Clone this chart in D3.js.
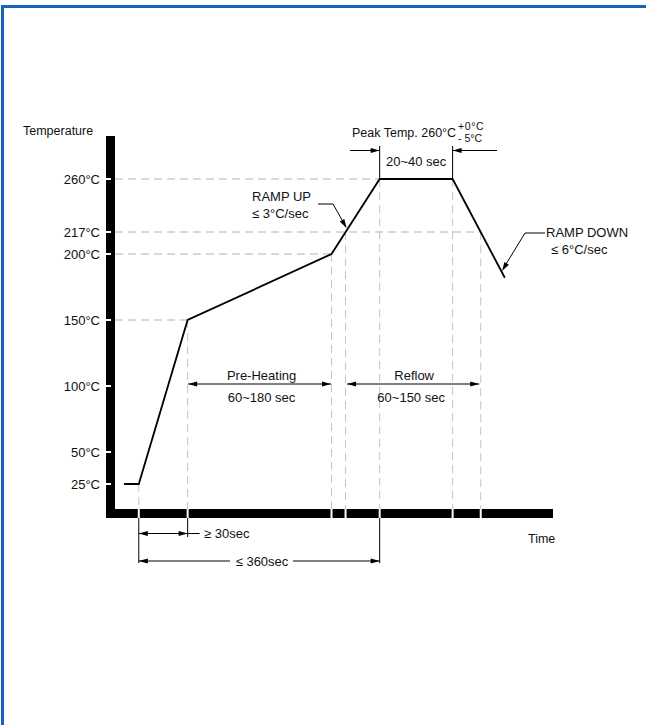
<!DOCTYPE html>
<html>
<head>
<meta charset="utf-8">
<script src="https://cdn.jsdelivr.net/npm/d3@7"></script>
<style>
    html, body { margin: 0; padding: 0; background: #fff; }
    svg text { font-family: "Liberation Sans", Arial, sans-serif; fill: #111; }
</style>
</head>
<body>
<div id="chart"></div>
<script>
// data for the reflow profile (time in sec, temperature in °C)
const profileTime = [24, 46, 119, 334, 406, 515, 593];
const profileTemp = [25, 25, 150, 200, 260, 260, 182];

// temperature tick labels on the y axis
const tempTicks = [25, 50, 100, 150, 200, 217, 260];
// temperatures that get a dashed guide to the curve
const guideTemps = [150, 200, 217, 260];

// time marks on the x axis (start, preheat end, ramp start, 217 up, peak start, peak end, 217 down)
const timeTicks = [46, 119, 334, 355, 406, 515, 557];

// setting up layout
const width = 646;
const height = 725;

const svg = d3.select('#chart')
    .append('svg')
    .attr('width', width)
    .attr('height', height);

// frame (top and left blue edge)
svg.append('rect').attr('x', 1).attr('y', 5).attr('width', width).attr('height', 3).attr('fill', '#1862b6');
svg.append('rect').attr('x', 1).attr('y', 5).attr('width', 3).attr('height', height).attr('fill', '#1862b6');

// scales (schematic, y axis is not evenly spaced)
const x = d3.scaleLinear()
    .domain([0, 665])
    .range([108, 553]);

const y = d3.scaleLinear()
    .domain([0, 25, 50, 100, 150, 200, 217, 260])
    .range([516, 484, 452, 386, 320, 254, 232, 179]);

const profile = profileTime.map((t, i) => ({t: t, v: profileTemp[i]}));

// pixel position of the curve at a given time
function curveY(t) {
    for (let i = 1; i < profile.length; i++) {
        const a = profile[i - 1], b = profile[i];
        if (t >= a.t && t <= b.t) {
            const k = (x(t) - x(a.t)) / (x(b.t) - x(a.t));
            return y(a.v) + k * (y(b.v) - y(a.v));
        }
    }
    return y(0);
}
// right end of each horizontal guide = first/last time the curve reaches it
function guideEnd(v) {
    if (v === 217) return x(timeTicks[6]);
    const i = profile.findIndex(d => d.v === v && d.t > profileTime[0]);
    return x(profile[i].t);
}

const axisTop = 509;
const axisLeft = 115;

/* GUIDES */
const guides = svg.append('g').classed('guides', true);

guides.selectAll('.h-guide')
    .data(guideTemps)
    .enter()
    .append('line')
    .classed('h-guide', true)
    .attr('x1', axisLeft)
    .attr('x2', d => guideEnd(d))
    .attr('y1', d => y(d))
    .attr('y2', d => y(d))
    .attr('stroke', '#b2b2b2')
    .attr('stroke-width', 1)
    .attr('stroke-dasharray', '8,5');

guides.selectAll('.v-guide')
    .data(timeTicks)
    .enter()
    .append('line')
    .classed('v-guide', true)
    .attr('x1', d => x(d))
    .attr('x2', d => x(d))
    .attr('y1', d => curveY(d))
    .attr('y2', axisTop)
    .attr('stroke', '#c4c4c4')
    .attr('stroke-width', 1)
    .attr('stroke-dasharray', '8,5');

/* AXES */
const axes = svg.append('g').classed('axes', true);
axes.append('rect').attr('x', 106).attr('y', 136).attr('width', 9).attr('height', 382).attr('fill', '#000');
axes.append('rect').attr('x', 106).attr('y', axisTop).attr('width', 447).attr('height', 9).attr('fill', '#000');

// white notches on the y axis
axes.selectAll('.y-notch')
    .data(tempTicks.filter(d => d !== 25).concat([25]))
    .enter()
    .append('line')
    .attr('x1', 104).attr('x2', 111)
    .attr('y1', d => y(d)).attr('y2', d => y(d))
    .attr('stroke', '#fff')
    .attr('stroke-width', 2);

// white gaps in the x axis
axes.selectAll('.x-notch')
    .data(timeTicks)
    .enter()
    .append('line')
    .attr('x1', d => x(d)).attr('x2', d => x(d))
    .attr('y1', axisTop).attr('y2', axisTop + 9)
    .attr('stroke', '#fff')
    .attr('stroke-width', 2);

axes.selectAll('.y-label')
    .data(tempTicks)
    .enter()
    .append('text')
    .attr('x', 100)
    .attr('y', d => y(d) + 4.5)
    .attr('text-anchor', 'end')
    .attr('font-size', 13)
    .text(d => d + '°C');

axes.append('text').attr('x', 23).attr('y', 135).attr('font-size', 12.5).text('Temperature');
axes.append('text').attr('x', 528).attr('y', 543).attr('font-size', 12.5).text('Time');

/* PROFILE */
const line = d3.line()
    .x(d => x(d.t))
    .y(d => y(d.v));

svg.append('path')
    .datum(profile)
    .attr('d', line)
    .attr('fill', 'none')
    .attr('stroke', '#000')
    .attr('stroke-width', 1.8)
    .attr('stroke-linejoin', 'miter');

/* ANNOTATIONS */
const ann = svg.append('g').classed('annotations', true);

function seg(x1, y1, x2, y2) {
    ann.append('line')
        .attr('x1', x1).attr('y1', y1).attr('x2', x2).attr('y2', y2)
        .attr('stroke', '#000').attr('stroke-width', 1);
}
// filled arrow head, tip at (tx, ty), pointing along angle a
function head(tx, ty, a) {
    const L = 9, W = 2.6;
    const c = Math.cos(a), s = Math.sin(a);
    const bx = tx - L * c, by = ty - L * s;
    ann.append('path')
        .attr('d', `M${tx},${ty}L${bx - W * s},${by + W * c}L${bx + W * s},${by - W * c}Z`)
        .attr('fill', '#000');
}
function label(tx, ty, str, anchor, size) {
    return ann.append('text')
        .attr('x', tx).attr('y', ty)
        .attr('text-anchor', anchor || 'start')
        .attr('font-size', size || 13)
        .text(str);
}
// dimension line with outward arrows
function dim(t1, t2, yy, inset) {
    const a = x(t1) + inset, b = x(t2) - inset;
    seg(a, yy, b, yy);
    head(a, yy, Math.PI);
    head(b, yy, 0);
}

// peak temperature bracket
const xPk1 = x(timeTicks[4]), xPk2 = x(timeTicks[5]);
seg(xPk1, 146, xPk1, y(260));
seg(xPk2, 146, xPk2, y(260));
seg(350, 150.5, xPk1, 150.5);
head(xPk1, 150.5, 0);
seg(xPk2, 150.5, 497, 150.5);
head(xPk2, 150.5, Math.PI);
label(352, 137, 'Peak Temp. 260°C', 'start', 12.5);
label(458, 130, '+0°C', 'start', 10.5).attr('letter-spacing', 0.6);
label(458, 142, '- 5°C', 'start', 10.5);
label((xPk1 + xPk2) / 2, 166, '20~40 sec', 'middle');

// ramp up
label(252, 201, 'RAMP UP');
label(252, 218, '≤ 3°C/sec');
seg(318, 204, 333, 204);
seg(333, 204, 346, 227);
head(346.5, 228, Math.atan2(23, 13));

// ramp down
label(546, 237, 'RAMP DOWN');
label(551, 254, '≤ 6°C/sec');
seg(525, 233, 545, 233);
seg(525, 233, 503, 269);
head(502, 271, Math.atan2(38, -23));

// pre-heating and reflow spans
dim(timeTicks[1], timeTicks[2], 384, 0.5);
label((x(timeTicks[1]) + x(timeTicks[2])) / 2 + 2, 380, 'Pre-Heating', 'middle');
label((x(timeTicks[1]) + x(timeTicks[2])) / 2 + 2, 402, '60~180 sec', 'middle');

dim(timeTicks[3], timeTicks[6], 384, 1.5);
label((x(timeTicks[3]) + x(timeTicks[6])) / 2 + 1, 380, 'Reflow', 'middle');
label((x(timeTicks[3]) + x(timeTicks[6])) / 2 - 2, 402, '60~150 sec', 'middle');

// extension lines below the axis
const x0 = x(timeTicks[0]), x1 = x(timeTicks[1]);
seg(x0, 518, x0, 563);
seg(x1, 518, x1, 537);
seg(xPk1, 518, xPk1, 563);

// ≥ 30 sec
dim(timeTicks[0], timeTicks[1], 533.5, 0);
seg(x1, 533.5, x1 + 12, 533.5);
label(204, 538, '≥ 30sec');

// ≤ 360 sec
seg(x0, 561, 230, 561);
seg(293, 561, xPk1, 561);
head(x0, 561, Math.PI);
head(xPk1, 561, 0);
label(262, 566, '≤ 360sec', 'middle');
</script>
</body>
</html>
